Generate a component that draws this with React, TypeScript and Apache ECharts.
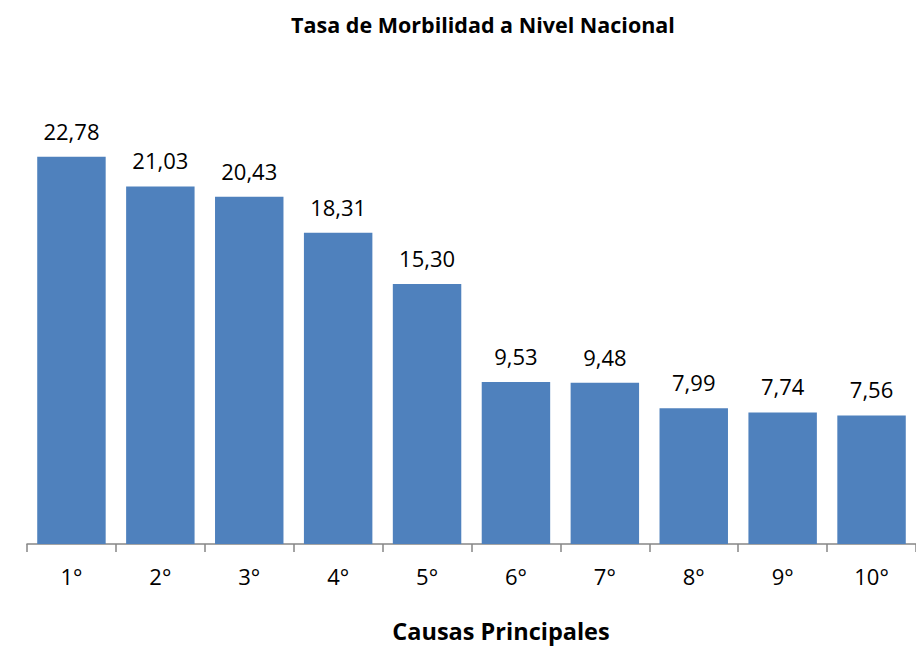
import React, { useEffect, useRef } from "react";
import * as echarts from "echarts";

const categories = ["1°", "2°", "3°", "4°", "5°", "6°", "7°", "8°", "9°", "10°"];
const values = [22.78, 21.03, 20.43, 18.31, 15.3, 9.53, 9.48, 7.99, 7.74, 7.56];
const titleText = "Tasa de Morbilidad a Nivel Nacional";
const axisTitle = "Causas Principales";

const FONT = "'Open Sans', 'Noto Sans', sans-serif";

export default function App() {
  const ref = useRef<HTMLDivElement>(null);
  useEffect(() => {
    if (!ref.current) return;
    const chart = echarts.init(ref.current, undefined, { renderer: "svg" });
    chart.setOption({
      animation: false,
      backgroundColor: "#ffffff",
      title: [
        {
          text: titleText,
          left: 478,
          top: 8,
          textAlign: "center",
          textStyle: { fontFamily: FONT, fontSize: 21.5, fontWeight: "bold", color: "#000" },
        },
        {
          text: axisTitle,
          left: 496,
          top: 614,
          textAlign: "center",
          textStyle: { fontFamily: FONT, fontSize: 23.5, fontWeight: "bold", color: "#000" },
        },
      ],
      grid: { left: 27, width: 893, top: 119, bottom: 102, containLabel: false },
      xAxis: {
        type: "category",
        data: categories,
        axisLine: { show: true, lineStyle: { color: "#868686", width: 1.5 } },
        axisTick: { show: true, length: 8, lineStyle: { color: "#868686", width: 1.5 } },
        axisLabel: { fontFamily: FONT, fontSize: 22, color: "#000", margin: 21 },
      },
      yAxis: {
        type: "value",
        min: 0,
        max: 25,
        show: false,
        splitLine: { show: false },
      },
      series: [
        {
          type: "bar",
          data: values,
          barCategoryGap: "23%",
          itemStyle: { color: "#4F81BD" },
          label: {
            show: true,
            position: "top",
            distance: 15,
            fontFamily: FONT,
            fontSize: 22,
            color: "#000",
            formatter: (p: any) => Number(p.value).toFixed(2).replace(".", ","),
          },
        },
      ],
    });
    return () => chart.dispose();
  }, []);
  return <div ref={ref} style={{ width: 916, height: 646, position: "absolute", left: 0, top: 0 }} />;
}
